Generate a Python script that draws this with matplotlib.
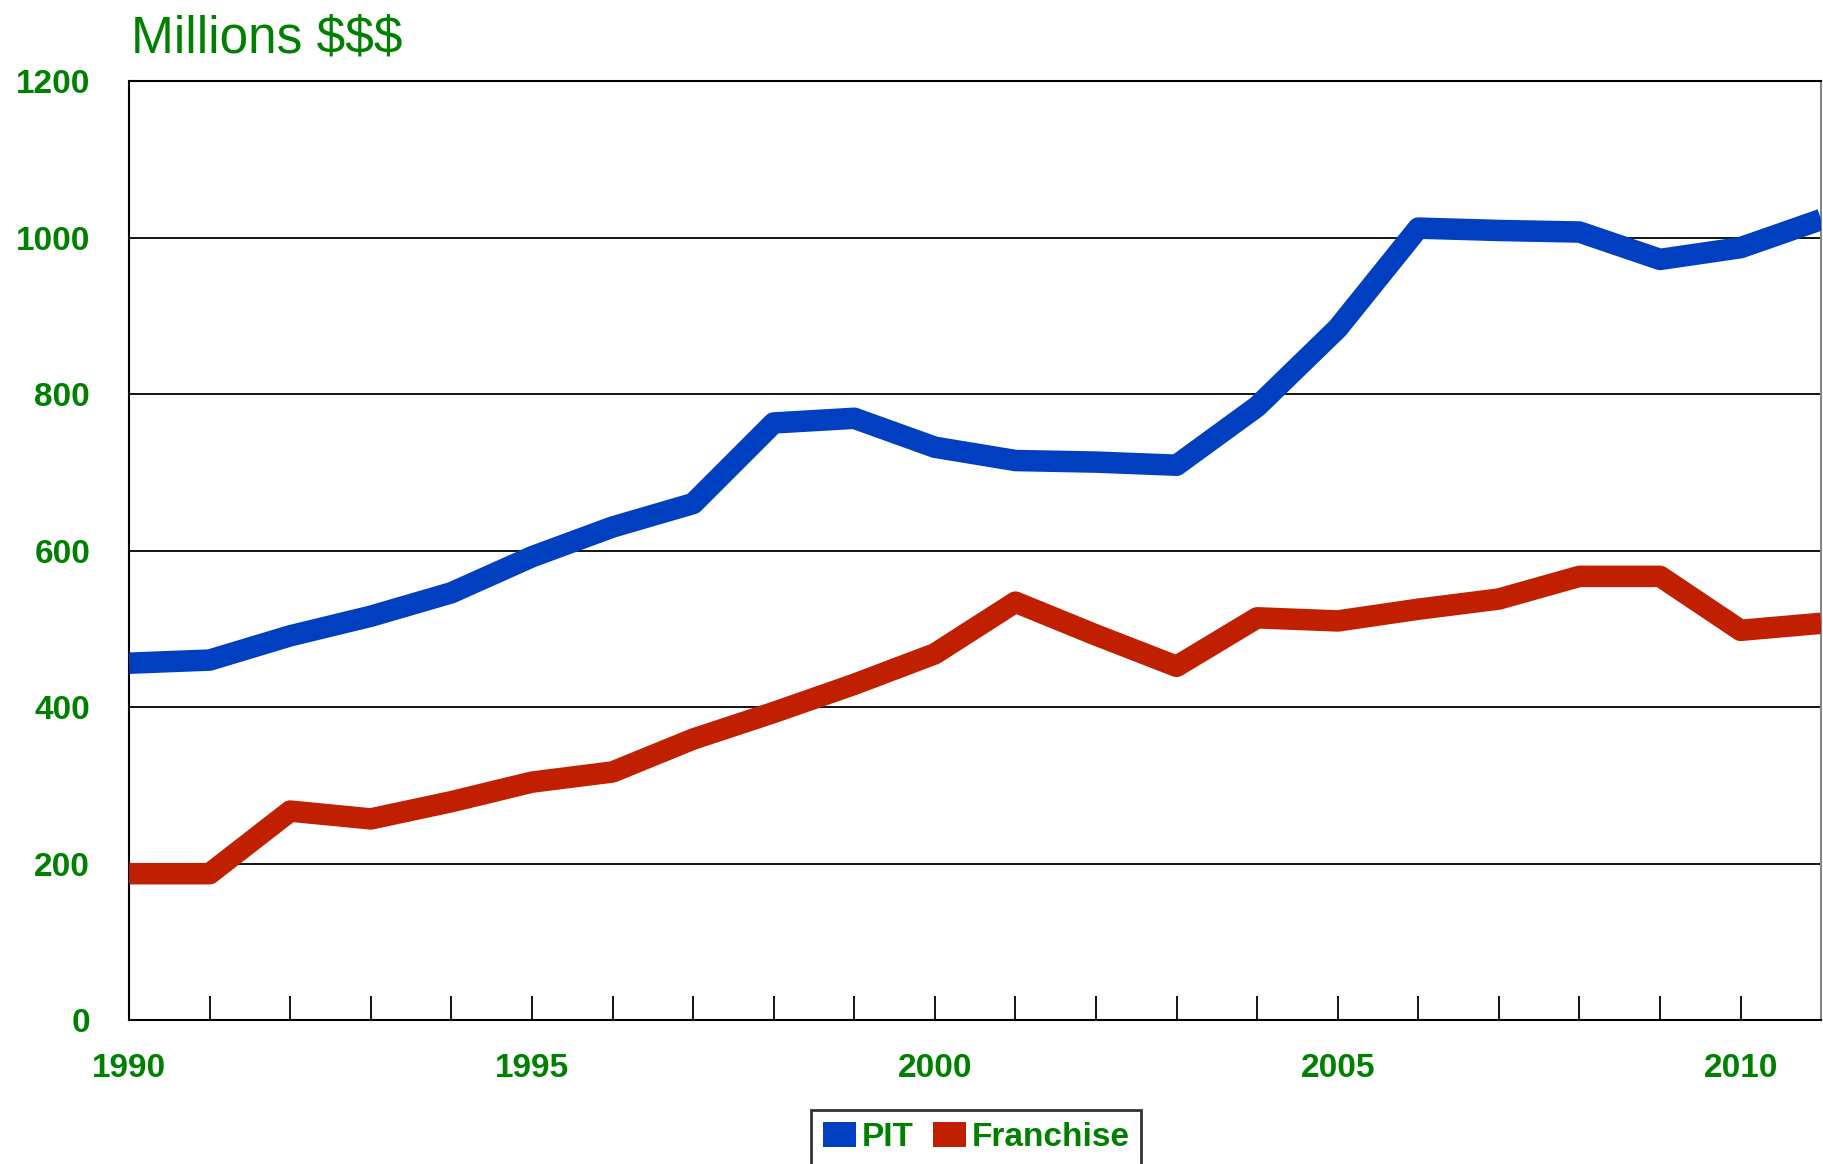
import matplotlib.pyplot as plt
from matplotlib.patches import Patch
from matplotlib.ticker import MultipleLocator

# Revenue series, millions of dollars
years = list(range(1990, 2012))
pit = [456, 460, 491, 516, 546, 592, 630, 660, 763, 769, 732,
       715, 713, 709, 784, 884, 1012, 1009, 1007, 972, 987, 1023]
franchise = [187, 187, 267, 257, 279, 304, 317, 359, 393, 429, 468,
             534, 492, 452, 514, 510, 525, 538, 567, 567, 498, 507]

GREEN = '#008000'
BLUE = '#0040C0'
RED = '#C02000'

plt.rcParams['font.family'] = ['Liberation Sans', 'DejaVu Sans']

fig = plt.figure(figsize=(18.23, 11.64), dpi=100)
ax = fig.add_axes([0.0708, 0.1237, 0.9282, 0.8067])

ax.plot(years, pit, color=BLUE, lw=15.5, solid_joinstyle='round',
        solid_capstyle='butt', zorder=3)
ax.plot(years, franchise, color=RED, lw=15.5, solid_joinstyle='round',
        solid_capstyle='butt', zorder=3)

ax.set_xlim(1990, 2011)
ax.set_ylim(0, 1200)

# gridlines on the y values
ax.yaxis.set_major_locator(MultipleLocator(200))
ax.grid(axis='y', color='black', lw=1.3, zorder=1)

ax.xaxis.set_major_locator(MultipleLocator(5))
ax.xaxis.set_minor_locator(MultipleLocator(1))
ax.tick_params(axis='x', which='both', direction='in', length=17,
               width=1.3, color='black', pad=24)
ax.tick_params(axis='y', length=0, pad=28)

for lab in ax.get_xticklabels() + ax.get_yticklabels():
    lab.set_fontsize(24)
    lab.set_fontweight('bold')
    lab.set_color(GREEN)

for side in ['left', 'bottom', 'top']:
    ax.spines[side].set_linewidth(1.5)
    ax.spines[side].set_color('black')
ax.spines['right'].set_color('#888888')
ax.spines['right'].set_linewidth(1.5)

fig.text(0.072, 1 - 53 / 1164, 'Millions $$$', fontsize=37, color=GREEN,
         va='baseline', ha='left')

handles = [Patch(facecolor=BLUE, edgecolor='none', label='PIT'),
           Patch(facecolor=RED, edgecolor='none', label='Franchise')]
leg = fig.legend(handles=handles, loc='upper center',
                 bbox_to_anchor=(0.5355, 1 - 1110 / 1164), ncol=2,
                 frameon=True, fancybox=False, framealpha=1,
                 edgecolor='#333333', handlelength=1.0, handleheight=0.8,
                 handletextpad=0.15, columnspacing=0.6, borderpad=0.35,
                 borderaxespad=0,
                 prop={'weight': 'bold', 'size': 24})
leg.get_frame().set_linewidth(2)
for t in leg.get_texts():
    t.set_color(GREEN)

fig.savefig('out.png', dpi=100)
